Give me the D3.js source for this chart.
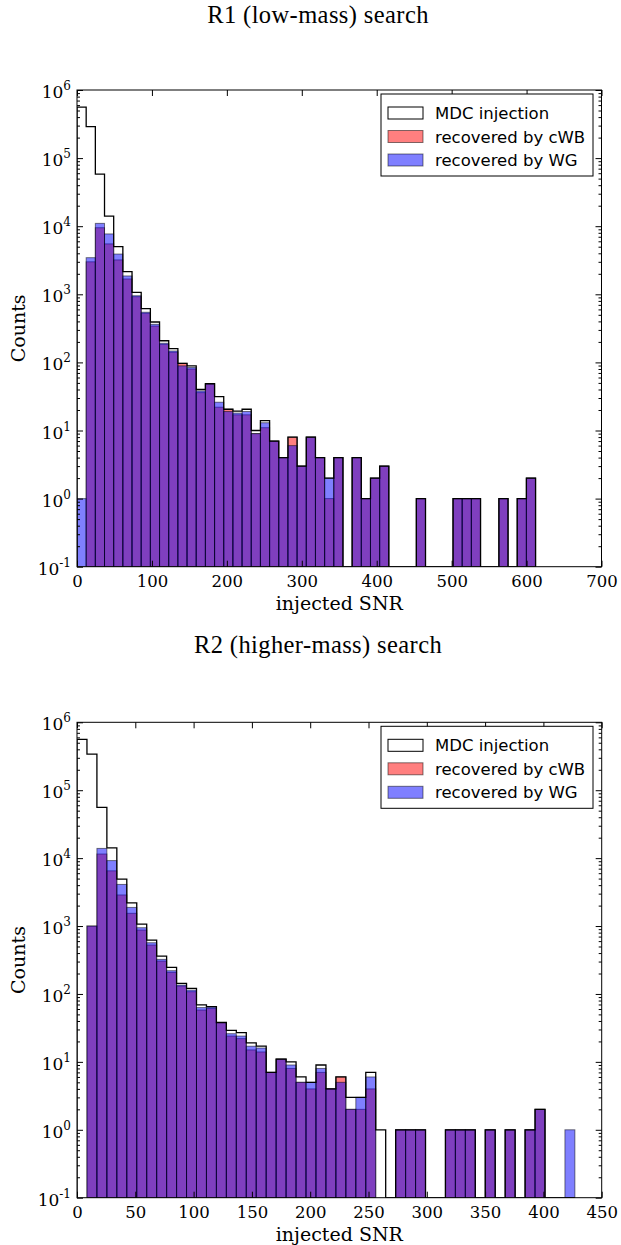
<!DOCTYPE html>
<html><head><meta charset="utf-8">
<script src="https://cdn.jsdelivr.net/npm/d3@7"></script>
<style>body{margin:0;background:#fff}svg{display:block}</style>
</head><body>
<svg id="c" width="621" height="1245"></svg>
<script>
// ---------------- data ----------------
const binCount = 50;
const r1BinRange = [0, 612];
const r2BinRange = [0, 427];

const r1Injection = [560000, 290000, 58000, 14100, 5000, 2150, 1070, 615, 392, 208,
  159, 97, 89, 40, 48.7, 31.4, 20.5, 19.3, 20.5, 10,
  14, 7, 4, 8, 3, 8, 4, 2, 4, 0,
  4, 1, 2, 3, 0, 0, 0, 1, 0, 0,
  0, 1, 1, 1, 0, 0, 1, 0, 1, 2];
const r1CWB = [0, 3000, 9500, 5500, 3200, 1680, 922, 526, 342, 184,
  141, 97, 80, 36, 48, 22, 20.5, 17, 17, 9,
  11, 7, 4, 8, 3, 8, 4, 1, 4, 0,
  4, 1, 2, 3, 0, 0, 0, 1, 0, 0,
  0, 1, 1, 1, 0, 0, 1, 0, 1, 2];
const r1WG = [1, 3450, 11000, 7700, 3900, 1860, 953, 545, 362, 191,
  147, 89, 84, 38, 48, 26, 19, 18, 19, 9,
  13, 7, 4, 6, 3, 8, 4, 2, 4, 0,
  4, 1, 2, 3, 0, 0, 0, 1, 0, 0,
  0, 1, 1, 1, 0, 0, 1, 0, 1, 2];

const r2Injection = [560000, 340000, 56000, 14200, 4900, 2200, 1070, 622, 361, 247,
  143, 121, 69, 65, 38, 29, 27, 19, 17, 7,
  11, 10, 6, 5, 9, 4, 6, 3, 3, 7,
  1, 0, 1, 1, 1, 0, 0, 1, 1, 1,
  0, 1, 0, 1, 0, 1, 2, 0, 0, 0];
const r2CWB = [0, 1000, 11500, 6500, 2870, 1540, 873, 525, 305, 208,
  131, 108, 58, 61, 38, 24, 22, 15, 14, 7,
  11, 8, 5, 4, 7, 4, 6, 2, 2, 4,
  0, 0, 1, 1, 1, 0, 0, 1, 1, 1,
  0, 1, 0, 1, 0, 1, 2, 0, 0, 0];
const r2WG = [0, 1000, 13900, 9200, 4100, 1880, 945, 568, 323, 220,
  135, 114, 63, 64, 38, 26, 24, 17, 16, 7,
  11, 9, 5, 5, 8, 4, 5, 2, 3, 6,
  0, 0, 1, 1, 1, 0, 0, 1, 1, 1,
  0, 1, 0, 1, 0, 1, 2, 0, 0, 1];

const r1XTicks = [0, 100, 200, 300, 400, 500, 600, 700];
const r2XTicks = [0, 50, 100, 150, 200, 250, 300, 350, 400, 450];
const yDecades = [-1, 0, 1, 2, 3, 4, 5, 6];
const legendLabels = ["MDC injection", "recovered by cWB", "recovered by WG"];
const titles = ["R1 (low-mass) search", "R2 (higher-mass) search"];
const xLabel = "injected SNR";
const yLabel = "Counts";

// ---------------- drawing ----------------
const svg = d3.select("#c");
const serif = "'DejaVu Serif', serif";
const sans = "'DejaVu Sans', sans-serif";

function drawPanel(cfg, idx) {
  const x = d3.scaleLinear().domain([cfg.xTicks[0], cfg.xTicks[cfg.xTicks.length - 1]]).range([cfg.left, cfg.right]);
  const y = d3.scaleLog().domain([0.1, 1e6]).range([cfg.bottom, cfg.top]);
  const edges = d3.range(binCount + 1).map(i => cfg.binRange[0] + (cfg.binRange[1] - cfg.binRange[0]) * i / binCount);
  const g = svg.append("g");
  const clipId = "clip" + idx;
  svg.append("clipPath").attr("id", clipId).append("rect")
    .attr("x", cfg.left).attr("y", cfg.top).attr("width", cfg.right - cfg.left).attr("height", cfg.bottom - cfg.top);

  const plot = g.append("g").attr("clip-path", `url(#${clipId})`);
  const series = [{ vals: cfg.cwb, color: "#ff0000" }, { vals: cfg.wg, color: "#0000ff" }];
  series.forEach(s => {
    plot.append("g").selectAll("rect")
      .data(s.vals.map((v, i) => ({ v, i })).filter(d => d.v > 0))
      .join("rect")
      .attr("x", d => x(edges[d.i]))
      .attr("width", d => x(edges[d.i + 1]) - x(edges[d.i]))
      .attr("y", d => y(d.v))
      .attr("height", d => y(0.1) - y(d.v))
      .attr("fill", s.color).attr("fill-opacity", 0.5)
      .attr("stroke", "#000").attr("stroke-opacity", 0.5).attr("stroke-width", 1);
  });

  const pts = [[x(edges[0]), y(0.1)]];
  cfg.inj.forEach((v, i) => {
    const yy = v > 0 ? y(v) : y(0.1);
    pts.push([x(edges[i]), yy], [x(edges[i + 1]), yy]);
  });
  pts.push([x(edges[binCount]), y(0.1)]);
  plot.append("path").attr("d", d3.line()(pts))
    .attr("fill", "none").attr("stroke", "#000").attr("stroke-width", 1.3);

  // axes
  const majorY = yDecades.map(d => Math.pow(10, d));
  const minorY = [];
  yDecades.slice(0, -1).forEach(d => { for (let k = 2; k <= 9; k++) minorY.push(k * Math.pow(10, d)); });

  const ax = g.append("g").attr("class", "axes");
  const bottomAxis = ax.append("g").attr("transform", `translate(0,${cfg.bottom})`)
    .call(d3.axisBottom(x).tickValues(cfg.xTicks).tickSize(-6).tickSizeOuter(0).tickPadding(8.5));
  bottomAxis.selectAll("text").attr("font-family", serif).attr("font-size", 16.5).attr("fill", "#000");
  ax.append("g").attr("transform", `translate(0,${cfg.top})`)
    .call(d3.axisTop(x).tickValues(cfg.xTicks).tickSize(-6).tickSizeOuter(0).tickFormat(""));
  ax.append("g").attr("transform", `translate(${cfg.left},0)`)
    .call(d3.axisLeft(y).tickValues(majorY).tickSize(-6).tickSizeOuter(0).tickFormat(""));
  ax.append("g").attr("transform", `translate(${cfg.left},0)`)
    .call(d3.axisLeft(y).tickValues(minorY).tickSize(-3).tickSizeOuter(0).tickFormat(""));
  ax.append("g").attr("transform", `translate(${cfg.right},0)`)
    .call(d3.axisRight(y).tickValues(majorY).tickSize(-6).tickSizeOuter(0).tickFormat(""));
  ax.append("g").attr("transform", `translate(${cfg.right},0)`)
    .call(d3.axisRight(y).tickValues(minorY).tickSize(-3).tickSizeOuter(0).tickFormat(""));
  ax.selectAll(".domain").remove();
  ax.selectAll("line").attr("stroke", "#000").attr("stroke-width", 1);

  // y tick labels 10^n
  yDecades.forEach(d => {
    const t = g.append("text").attr("x", cfg.left - 6).attr("y", y(Math.pow(10, d)) + 8)
      .attr("text-anchor", "end").attr("font-family", serif).attr("fill", "#000");
    t.append("tspan").attr("font-size", 17).text("10");
    t.append("tspan").attr("font-size", 12).attr("dy", -8).text(d < 0 ? "-" + Math.abs(d) : String(d));
  });

  // frame
  g.append("rect").attr("x", cfg.left).attr("y", cfg.top)
    .attr("width", cfg.right - cfg.left).attr("height", cfg.bottom - cfg.top)
    .attr("fill", "none").attr("stroke", "#000").attr("stroke-width", 1);

  // labels
  g.append("text").attr("x", (cfg.left + cfg.right) / 2).attr("y", cfg.bottom + 43)
    .attr("text-anchor", "middle").attr("font-family", serif).attr("font-size", 19).text(xLabel);
  g.append("text").attr("transform", `translate(25,${(cfg.top + cfg.bottom) / 2}) rotate(-90)`)
    .attr("text-anchor", "middle").attr("font-family", serif).attr("font-size", 19).text(yLabel);
  g.append("text").attr("x", 318).attr("y", cfg.titleY)
    .attr("text-anchor", "middle").attr("font-family", "'Liberation Serif', serif")
    .attr("font-size", 24.5).attr("letter-spacing", 0.4).text(cfg.title);

  // legend
  const lg = g.append("g").attr("transform", `translate(381,${cfg.top + 4})`);
  lg.append("rect").attr("x", 0).attr("y", 0).attr("width", 212).attr("height", 82)
    .attr("fill", "#fff").attr("stroke", "#000").attr("stroke-width", 1);
  const patches = [
    { fill: "#fff", fo: 1, so: 1 },
    { fill: "#ff0000", fo: 0.5, so: 0.5 },
    { fill: "#0000ff", fo: 0.5, so: 0.5 }
  ];
  legendLabels.forEach((lab, i) => {
    const cy = 19 + i * 23.5;
    lg.append("rect").attr("x", 7).attr("y", cy - 6).attr("width", 35).attr("height", 12)
      .attr("fill", patches[i].fill).attr("fill-opacity", patches[i].fo)
      .attr("stroke", "#000").attr("stroke-opacity", patches[i].so).attr("stroke-width", 1);
    lg.append("text").attr("x", 54).attr("y", cy + 6).attr("font-family", sans).attr("font-size", 16.5)
      .attr("fill", "#000").text(lab);
  });
}

drawPanel({ left: 77, right: 601.5, top: 90, bottom: 566.7, xTicks: r1XTicks, binRange: r1BinRange,
  inj: r1Injection, cwb: r1CWB, wg: r1WG, title: titles[0], titleY: 23 }, 0);
drawPanel({ left: 77, right: 601.7, top: 722.3, bottom: 1197.7, xTicks: r2XTicks, binRange: r2BinRange,
  inj: r2Injection, cwb: r2CWB, wg: r2WG, title: titles[1], titleY: 653 }, 1);
</script>
</body></html>
